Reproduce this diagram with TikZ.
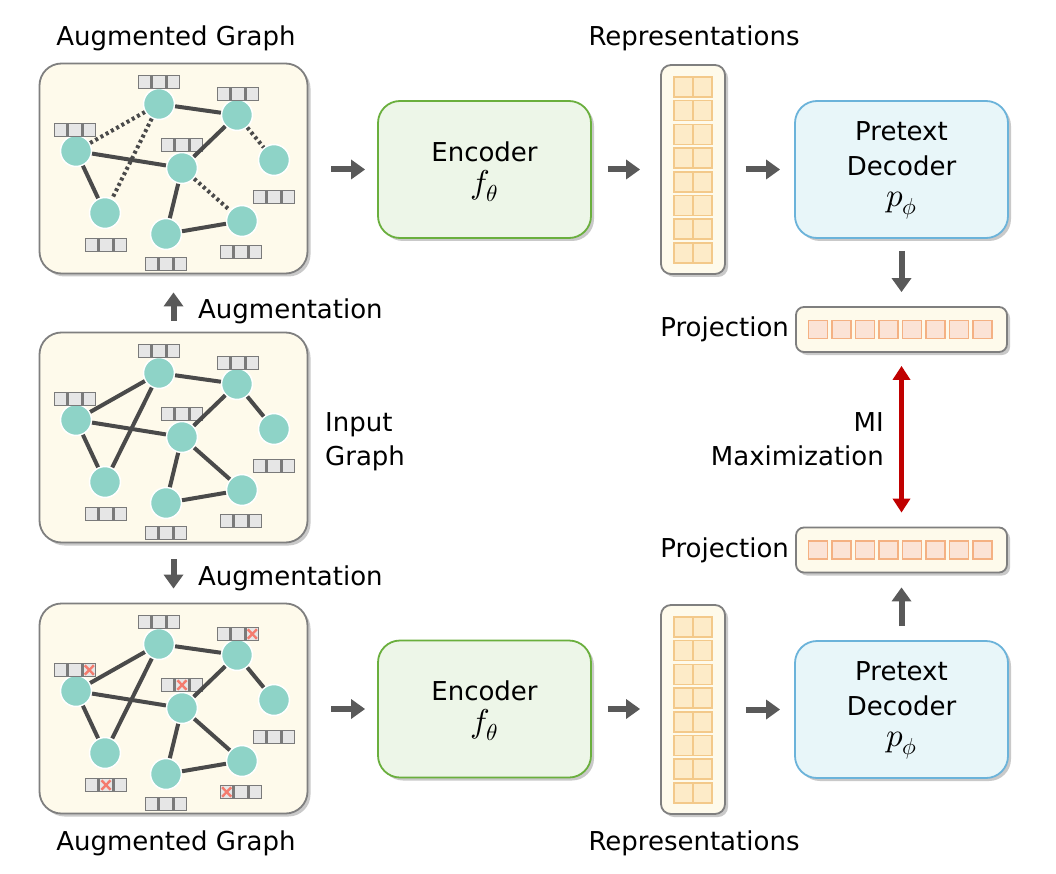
\documentclass[tikz,border=0pt]{standalone}
\usepackage{fontspec}
\usepackage{unicode-math}
\setmainfont{DejaVu Sans}
\setmathfont{Latin Modern Math}
\usetikzlibrary{shadows,arrows.meta}
\definecolor{cream}{HTML}{FEFAEB}
\definecolor{boxgray}{HTML}{7F7F7F}
\definecolor{teal}{HTML}{8ED3C7}
\definecolor{edgegray}{HTML}{4A4A4A}
\definecolor{arrgray}{HTML}{595959}
\definecolor{featfill}{HTML}{E6E6E6}
\definecolor{featdraw}{HTML}{7A7A7A}
\definecolor{xred}{HTML}{F47C6E}
\definecolor{encfill}{HTML}{EDF6E8}
\definecolor{encdraw}{HTML}{6AAF3D}
\definecolor{decfill}{HTML}{E8F6F9}
\definecolor{decdraw}{HTML}{6BB3DA}
\definecolor{repfill}{HTML}{FDEBC8}
\definecolor{repdraw}{HTML}{F3C98A}
\definecolor{projfill}{HTML}{FBE3D6}
\definecolor{projdraw}{HTML}{F4B183}
\definecolor{mired}{HTML}{C00000}
\tikzset{
  shad/.style={drop shadow={shadow xshift=3pt, shadow yshift=-3pt, opacity=0.35, fill=black!60}},
  gbox/.style={draw=boxgray, line width=1.8, fill=cream, rounded corners=22, shad, minimum width=268, minimum height=210, inner sep=0},
  gn/.style={circle, fill=teal, draw=white, line width=1.5, minimum size=31, inner sep=0},
  edge/.style={draw=edgegray, line width=4},
  dotedge/.style={draw=edgegray, line width=4, dash pattern=on 3pt off 3pt},
  cell/.style={draw=featdraw, fill=featfill, line width=1.6, minimum width=12.7, minimum height=13, inner sep=0},
  xmark/.style={draw=xred, line width=2.4},
  garrow/.style={draw=arrgray, line width=6, -{Triangle[length=14pt,width=19pt]}},
  encbox/.style={draw=encdraw, fill=encfill, line width=1.8, rounded corners=22, shad, minimum width=213, minimum height=137, inner sep=0},
  decbox/.style={draw=decdraw, fill=decfill, line width=1.8, rounded corners=22, shad, minimum width=213, minimum height=137, inner sep=0},
  repbox/.style={draw=boxgray, fill=cream, line width=1.8, rounded corners=10, shad, minimum width=64, minimum height=209, inner sep=0},
  projbox/.style={draw=boxgray, fill=cream, line width=1.8, rounded corners=8, shad, minimum width=211, minimum height=45, inner sep=0},
  rcell/.style={draw=repdraw, fill=repfill, line width=1.5, minimum width=19, minimum height=20, inner sep=0},
  pcell/.style={draw=projdraw, fill=projfill, line width=1.5, minimum width=19, minimum height=18, inner sep=0},
  lbl/.style={font=\fontsize{26}{34}\selectfont, inner sep=0},
  intxt/.style={font=\fontsize{26}{36}\selectfont, align=center, inner sep=0},
}
\newcommand\mymath[1]{{\fontsize{33}{36}\selectfont$#1$}}
\newcommand\feat[3]{%
  \node[cell] (#1-2) at (#2,#3) {};
  \node[cell, anchor=east] (#1-1) at (#1-2.west) {};
  \node[cell, anchor=west] (#1-3) at (#1-2.east) {};
}
\newcommand\xm[1]{%
  \draw[xmark] ([shift={(2.6,2.6)}]#1.north west) -- ([shift={(-2.6,-2.6)}]#1.south east);
  \draw[xmark] ([shift={(2.6,-2.6)}]#1.south west) -- ([shift={(-2.6,2.6)}]#1.north east);
}
\newcommand\graphbody[1]{%
  \node[gbox] (#1box) at (173.5,168.5) {};
  \node[gn] (#1A) at (159,104) {};
  \node[gn] (#1B) at (237,115) {};
  \node[gn] (#1C) at (76,151) {};
  \node[gn] (#1D) at (182,168) {};
  \node[gn] (#1E) at (274,160) {};
  \node[gn] (#1F) at (105,213) {};
  \node[gn] (#1G) at (166,234) {};
  \node[gn] (#1H) at (242,221) {};
  \feat{#1fA}{159}{82}
  \feat{#1fB}{238}{94}
  \feat{#1fC}{75}{130}
  \feat{#1fD}{182}{145}
  \feat{#1fE}{274}{197}
  \feat{#1fF}{106}{245}
  \feat{#1fG}{166}{264}
  \feat{#1fH}{241}{252}
  \draw[edge] (#1A) -- (#1B);
  \draw[edge] (#1C) -- (#1D);
  \draw[edge] (#1B) -- (#1D);
  \draw[edge] (#1C) -- (#1F);
  \draw[edge] (#1D) -- (#1G);
  \draw[edge] (#1G) -- (#1H);
}
\newcommand\repcol[1]{%
  \foreach \i in {0,...,7} {
    \node[rcell] (#1l\i) at (683.5,{87+\i*23.7}) {};
    \node[rcell] (#1r\i) at (702.5,{87+\i*23.7}) {};
  }
}
\newcommand\projcells[2]{%
  \foreach \i in {0,...,7} {
    \node[pcell] (#1c\i) at ({818+\i*23.5},#2) {};
  }
}
\begin{document}
\begin{tikzpicture}[x=1pt,y=-1pt]
\useasboundingbox[fill=white] (0,0) rectangle (1056,874);

% ---------- graphs ----------
\begin{scope}
  \graphbody{a}
  \draw[dotedge] (aC) -- (aA);
  \draw[dotedge] (aA) -- (aF);
  \draw[dotedge] (aB) -- (aE);
  \draw[dotedge] (aD) -- (aH);
\end{scope}
\begin{scope}[shift={(0,269)}]
  \graphbody{b}
  \draw[edge] (bC) -- (bA);
  \draw[edge] (bA) -- (bF);
  \draw[edge] (bB) -- (bE);
  \draw[edge] (bD) -- (bH);
\end{scope}
\begin{scope}[shift={(0,540)}]
  \graphbody{c}
  \draw[edge] (cC) -- (cA);
  \draw[edge] (cA) -- (cF);
  \draw[edge] (cB) -- (cE);
  \draw[edge] (cD) -- (cH);
  \xm{cfC-3}
  \xm{cfB-3}
  \xm{cfD-2}
  \xm{cfF-2}
  \xm{cfH-1}
\end{scope}

\node[lbl] (tAug1) at (176,38) {Augmented Graph};
\node[lbl] (tAug2) at (176,843) {Augmented Graph};
\node[lbl, anchor=west] (tAugU) at (198,311) {Augmentation};
\node[lbl, anchor=west] (tAugD) at (198,578) {Augmentation};
\node[lbl, anchor=west, align=left] (tIn) at (325,442) {Input\\Graph};

\draw[garrow] ([yshift=11]bbox.north) -- ([yshift=-18]abox.south);
\draw[garrow] ([yshift=-16]bbox.south) -- ([yshift=14]cbox.north);

% ---------- encoders ----------
\node[encbox] (enc1) at (484.5,169.5) {};
\node[intxt] (enc1t) at (484.5,172) {Encoder\\[-4pt]\mymath{f_\theta}};
\node[encbox] (enc2) at (484.5,709) {};
\node[intxt] (enc2t) at (484.5,711) {Encoder\\[-4pt]\mymath{f_\theta}};

\coordinate (s1) at ([xshift=23]abox.east);
\coordinate (s2) at ([xshift=23]cbox.east);
\draw[garrow] (s1 |- enc1.west) -- ([xshift=-12]enc1.west);
\draw[garrow] (s2 |- enc2.west) -- ([xshift=-12]enc2.west);

% ---------- representations ----------
\node[repbox] (rep1) at (693,169.5) {};
\begin{scope}\repcol{r1}\end{scope}
\node[repbox] (rep2) at (693,709.5) {};
\begin{scope}[shift={(0,540)}]\repcol{r2}\end{scope}
\node[lbl] (tRep1) at (694,38) {Representations};
\node[lbl] (tRep2) at (694,843) {Representations};

\coordinate (e1) at ([xshift=-20]rep1.west);
\coordinate (e2) at ([xshift=-20]rep2.west);
\draw[garrow] ([xshift=16]enc1.east) -- (e1 |- enc1.east);
\draw[garrow] ([xshift=16]enc2.east) -- (e2 |- enc2.east);

% ---------- decoders ----------
\node[decbox] (dec1) at (901.5,169.5) {};
\node[intxt] (dec1t) at (901.5,170.5) {Pretext\\[-1pt]Decoder\\[-5pt]\mymath{p_\phi}};
\node[decbox] (dec2) at (901.5,709.5) {};
\node[intxt] (dec2t) at (901.5,710.5) {Pretext\\[-1pt]Decoder\\[-5pt]\mymath{p_\phi}};

\coordinate (f1) at ([xshift=-14]dec1.west);
\coordinate (f2) at ([xshift=-14]dec2.west);
\draw[garrow] ([xshift=20]rep1.east) -- (f1 |- rep1.east);
\draw[garrow] ([xshift=20]rep2.east) -- (f2 |- rep2.east);

% ---------- projections ----------
\node[projbox] (proj1) at (901.5,329.5) {};
\projcells{p1}{329.5}
\node[projbox] (proj2) at (901.5,550) {};
\projcells{p2}{550}
\node[lbl, anchor=east] (tProj1) at ([xshift=-6]proj1.west) {Projection};
\node[lbl, anchor=east] (tProj2) at ([xshift=-6]proj2.west) {Projection};

\draw[garrow] ([yshift=-12]dec1.south) -- ([yshift=14]proj1.north);
\draw[garrow] ([yshift=14]dec2.north) -- ([yshift=-14]proj2.south);

\draw[draw=mired, line width=5, {Triangle[length=14pt,width=17pt]}-{Triangle[length=14pt,width=17pt]}]
  ([yshift=-13]proj1.south) -- ([yshift=14]proj2.north);
\node[lbl, anchor=east, align=right] (tMI) at (884,439) {MI\\Maximization};
\end{tikzpicture}
\end{document}
